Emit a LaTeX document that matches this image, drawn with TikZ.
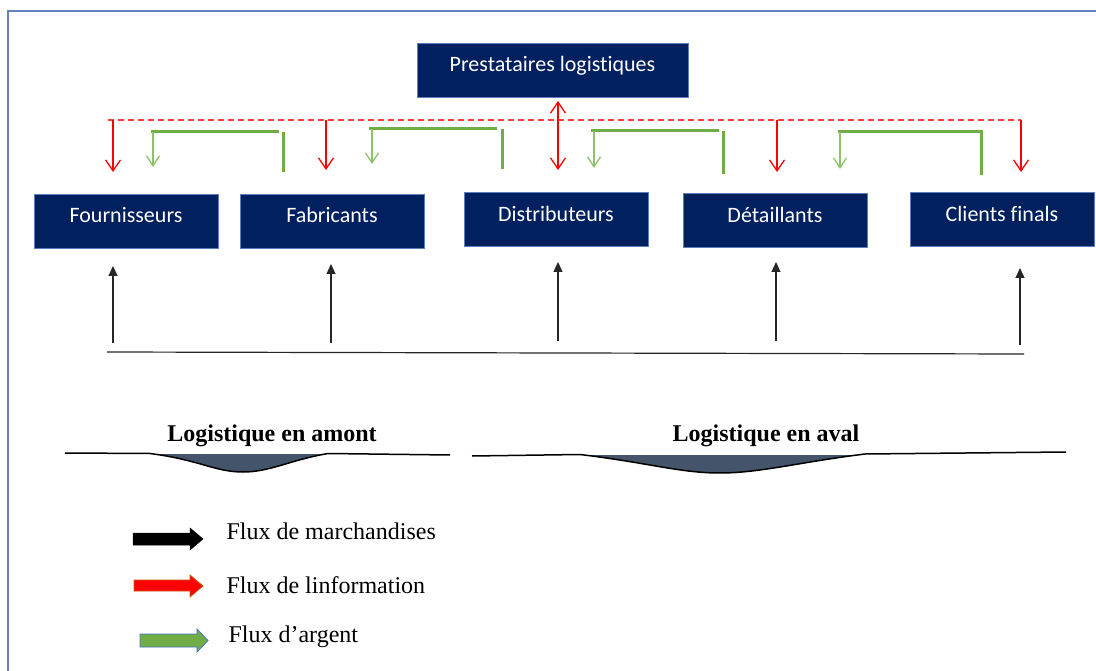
\documentclass[tikz,border=0pt]{standalone}
\usepackage{fontspec}
\setmainfont{Liberation Serif}
\newfontfamily\boxfont[Ligatures={NoCommon}]{Carlito}
\usetikzlibrary{arrows.meta}
\definecolor{navy}{RGB}{0,32,96}
\definecolor{boxline}{RGB}{90,125,190}
\definecolor{frameblue}{RGB}{100,130,195}
\definecolor{dashred}{RGB}{255,60,60}
\definecolor{gline}{RGB}{112,173,71}
\definecolor{garrow}{RGB}{140,195,105}
\definecolor{slate}{RGB}{68,84,106}
\definecolor{legorange}{RGB}{197,90,17}
\definecolor{legblue}{RGB}{68,114,196}
\tikzset{
  actor/.style={draw=boxline, line width=0.8pt, fill=navy, text=white,
    font=\boxfont\fontsize{22}{26}\selectfont, minimum height=54pt,
    text height=10pt, text depth=6pt, inner sep=0pt},
  redarr/.style={red, line width=1.3pt, -{Straight Barb[length=11pt,width=15pt,line width=1.3pt]}},
  redarr2/.style={red, line width=1.3pt, {Straight Barb[length=11pt,width=15pt,line width=1.3pt]}-{Straight Barb[length=11pt,width=15pt,line width=1.3pt]}},
  greenarr/.style={garrow, line width=1.3pt, -{Straight Barb[length=10pt,width=13pt,line width=1.3pt]}},
  greenline/.style={gline, line width=3pt},
  blackarr/.style={black!85, line width=1.2pt, -{Triangle[length=10pt,width=9pt]}},
  title/.style={font=\fontsize{24}{28}\selectfont\bfseries},
  legtext/.style={font=\fontsize{24}{28}\selectfont, anchor=west}
}
\begin{document}
\begin{tikzpicture}[x=1pt,y=-1pt]
\useasboundingbox (0,0) rectangle (1096,671);
\fill[white] (0,0) rectangle (1096,671);
% frame
\draw[frameblue, line width=1.5pt] (8,671) -- (8,11) -- (1096,11);

% boxes
\node[actor, minimum width=271pt] (prest) at (552.5,70) {Prestataires logistiques};
\node[actor, minimum width=184pt] (four) at (126,221) {Fournisseurs};
\node[actor, minimum width=184pt] (fab) at (332,221) {Fabricants};
\node[actor, minimum width=184pt] (dist) at (556,219.5) {Distributeurs};
\node[actor, minimum width=184pt] (det) at (775,220.5) {Détaillants};
\node[actor, minimum width=184pt] (cli) at (1002,219.5) {Clients finals};

% information flow
\coordinate (dL) at (108,120);
\coordinate (dR) at (1021,120);
\draw[dashred, line width=1.4pt, dash pattern=on 6pt off 4pt] (dL) -- (dR);
\coordinate (r1a) at (113,120); \coordinate (r1b) at (113,172);
\coordinate (r2a) at (326,120); \coordinate (r2b) at (326,170);
\coordinate (r3a) at (558,101); \coordinate (r3b) at (558,170);
\coordinate (r4a) at (777,120); \coordinate (r4b) at (777,172);
\coordinate (r5a) at (1021,120); \coordinate (r5b) at (1021,172);
\draw[redarr] (r1a) -- (r1b);
\draw[redarr] (r2a) -- (r2b);
\draw[redarr2] (r3a) -- (r3b);
\draw[redarr] (r4a) -- (r4b);
\draw[redarr] (r5a) -- (r5b);

% money flow
\coordinate (g1a) at (151,132); \coordinate (g1b) at (279,132);
\coordinate (g1c) at (283,132); \coordinate (g1d) at (283,172);
\coordinate (g1e) at (153,132); \coordinate (g1f) at (153,167);
\draw[greenline] (g1a) -- (g1b);
\draw[greenline] (g1c) -- (g1d);
\draw[greenarr] (g1e) -- (g1f);

\coordinate (g2a) at (369,129); \coordinate (g2b) at (497,129);
\coordinate (g2c) at (502,129); \coordinate (g2d) at (502,169);
\coordinate (g2e) at (372,129); \coordinate (g2f) at (372,164);
\draw[greenline] (g2a) -- (g2b);
\draw[greenline] (g2c) -- (g2d);
\draw[greenarr] (g2e) -- (g2f);

\coordinate (g3a) at (591,131); \coordinate (g3b) at (719,131);
\coordinate (g3c) at (723,131); \coordinate (g3d) at (723,174);
\coordinate (g3e) at (594,131); \coordinate (g3f) at (594,168);
\draw[greenline] (g3a) -- (g3b);
\draw[greenline] (g3c) -- (g3d);
\draw[greenarr] (g3e) -- (g3f);

\coordinate (g4a) at (838,132); \coordinate (g4b) at (981,132);
\coordinate (g4d) at (981,175);
\coordinate (g4e) at (840,132); \coordinate (g4f) at (840,169);
\draw[greenline] (g4a) -- (g4b) -- (g4d);
\draw[greenarr] (g4e) -- (g4f);

% goods flow
\coordinate (bL) at (107,352);
\coordinate (bR) at (1024,354);
\draw[black!85, line width=1.2pt] (bL) -- (bR);
\coordinate (b1) at (113,343); \coordinate (b1t) at (113,266);
\coordinate (b2) at (331,343); \coordinate (b2t) at (331,264);
\coordinate (b3) at (558,341); \coordinate (b3t) at (558,262);
\coordinate (b4) at (776,341); \coordinate (b4t) at (776,262);
\coordinate (b5) at (1020,345); \coordinate (b5t) at (1020,268);
\draw[blackarr] (b1) -- (b1t);
\draw[blackarr] (b2) -- (b2t);
\draw[blackarr] (b3) -- (b3t);
\draw[blackarr] (b4) -- (b4t);
\draw[blackarr] (b5) -- (b5t);

% upstream / downstream
\node[title] (amont) at (272,436) {Logistique en amont};
\node[title] (aval) at (766,436) {Logistique en aval};

\fill[slate] (155,454) .. controls (200,460) and (215,472) .. (243,472)
  .. controls (270,472) and (290,460) .. (323,454) -- cycle;
\draw[black, line width=1.5pt] (65,453) -- (150,453.5)
  .. controls (200,460) and (215,472) .. (243,472)
  .. controls (270,472) and (290,460) .. (328,453.5) -- (450,455);

\fill[slate] (585,455) .. controls (650,463) and (680,473) .. (720,473)
  .. controls (760,473) and (800,462) .. (860,455) -- cycle;
\draw[black, line width=1.5pt] (472,456) -- (580,454.5)
  .. controls (650,463) and (680,473) .. (720,473)
  .. controls (760,473) and (800,462) .. (865,454) -- (1066,452);

% legend
\filldraw[fill=black, draw=black, line width=0.5pt]
  (133,533) -- (190,533) -- (190,528) -- (203,539) -- (190,550) -- (190,545) -- (133,545) -- cycle;
\filldraw[fill=red, draw=legorange, line width=0.8pt]
  (134,580) -- (190,580) -- (190,575) -- (203,586) -- (190,597) -- (190,591) -- (134,591) -- cycle;
\filldraw[fill=gline, draw=legblue, line width=0.8pt]
  (140,634) -- (197,634) -- (197,629) -- (208,640.5) -- (197,652) -- (197,647) -- (140,647) -- cycle;
\node[legtext] (l1) at (223,531) {Flux de marchandises};
\node[legtext] (l2) at (223,585) {Flux de linformation};
\node[legtext] (l3) at (225,637) {Flux d’argent};
\end{tikzpicture}
\end{document}
